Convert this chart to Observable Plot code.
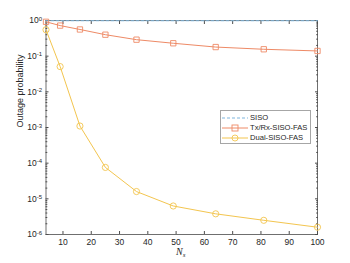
<!DOCTYPE html>
<html><head><meta charset="utf-8">
<script src="https://cdn.jsdelivr.net/npm/d3@7"></script>
<script src="https://cdn.jsdelivr.net/npm/@observablehq/plot@0.6"></script>
<style>
body{margin:0;background:#fff;font-family:"Liberation Sans",Arial,sans-serif;}
#wrap{position:relative;width:350px;height:263px;}
.legend{position:absolute;left:220px;top:110px;width:91px;height:34px;border:1px solid #a6a6a6;background:#fff;font-size:7.6px;color:#262626;box-sizing:border-box;}
.legend .row{position:absolute;left:1px;width:89px;height:10px;display:flex;align-items:center;white-space:nowrap;}
.legend svg{display:block;flex:none;}
.legend span{margin-left:2px;line-height:10px;white-space:nowrap;}
.xlab{position:absolute;left:176px;top:246px;font-family:"Liberation Serif","DejaVu Serif",serif;font-style:italic;font-size:10px;color:#262626;}
.xlab sub{font-size:7px;vertical-align:-2px;}
</style></head>
<body><div id="wrap"></div>
<script>
const Ns = [4, 9, 16, 25, 36, 49, 64, 81, 100];
const siso = [0.985, 0.985, 0.985, 0.985, 0.985, 0.985, 0.985, 0.985, 0.985];
const txrx = [0.92, 0.72, 0.56, 0.40, 0.29, 0.23, 0.18, 0.156, 0.14];
const dual = [0.55, 0.051, 0.0011, 7.6e-5, 1.6e-5, 6.3e-6, 3.8e-6, 2.5e-6, 1.6e-6];
const xTicks = [10, 20, 30, 40, 50, 60, 70, 80, 90, 100];
const yExps = [-6, -5, -4, -3, -2, -1, 0];
const seriesNames = ["SISO", "Tx/Rx-SISO-FAS", "Dual-SISO-FAS"];
const colors = ["#7fb6dd", "#ee8a66", "#f3c54f"];

const yTicks = yExps.map(e => Math.pow(10, e));
const yMinor = [];
for (const e of yExps.slice(0, -1)) for (let k = 2; k <= 9; k++) yMinor.push(k * Math.pow(10, e));

const rows = (vals, name) => Ns.map((n, i) => ({n, v: vals[i], name}));
const dSiso = rows(siso, seriesNames[0]);
const dTx = rows(txrx, seriesNames[1]);
const dDual = rows(dual, seriesNames[2]);

const axisColor = "#4d4d4d";
const chart = Plot.plot({
  width: 350, height: 263,
  marginLeft: 45.5, marginRight: 33, marginTop: 20, marginBottom: 29,
  style: {fontFamily: "Liberation Sans, Arial, sans-serif", fontSize: "8.5px", color: "#262626", background: "#fff"},
  x: {domain: [4, 100]},
  y: {type: "log", domain: [1e-6, 1]},
  marks: [
    Plot.frame({stroke: axisColor, strokeWidth: 0.8}),
    Plot.axisX({ticks: xTicks, tickSize: -3, tickPadding: 7, stroke: axisColor, label: null, tickFormat: d => String(d)}),
    Plot.axisX({ticks: xTicks, anchor: "top", tickSize: -3, stroke: axisColor, label: null, tickFormat: () => ""}),
    Plot.axisY({ticks: yTicks, tickSize: -3, tickPadding: 7, stroke: axisColor, label: null, tickFormat: d => "10^" + Math.round(Math.log10(d))}),
    Plot.axisY({ticks: yTicks, anchor: "right", tickSize: -3, stroke: axisColor, label: null, tickFormat: () => ""}),
    Plot.axisY({ticks: yMinor, tickSize: -1.8, stroke: axisColor, label: null, tickFormat: () => ""}),
    Plot.axisY({ticks: yMinor, anchor: "right", tickSize: -1.8, stroke: axisColor, label: null, tickFormat: () => ""}),
    Plot.line(dSiso, {x: "n", y: "v", stroke: colors[0], strokeWidth: 1.2, strokeDasharray: "3,2"}),
    Plot.line(dTx, {x: "n", y: "v", stroke: colors[1], strokeWidth: 1}),
    Plot.dot(dTx, {x: "n", y: "v", stroke: colors[1], symbol: "square", r: 3, strokeWidth: 0.9}),
    Plot.line(dDual, {x: "n", y: "v", stroke: colors[2], strokeWidth: 1}),
    Plot.dot(dDual, {x: "n", y: "v", stroke: colors[2], symbol: "circle", r: 3.1, strokeWidth: 0.9}),
    Plot.text(["Outage probability"], {frameAnchor: "left", dx: -26, rotate: -90, fontSize: 9, fill: "#262626"})
  ]
});

// superscript exponents
d3.select(chart).selectAll("text").each(function() {
  const t = this.textContent;
  const m = /^10\^(-?\d+)$/.exec(t);
  if (m) {
    const el = d3.select(this);
    el.text("");
    el.append("tspan").text("10");
    el.append("tspan").attr("dy", "-0.45em").attr("font-size", "6px").text(m[1]);
  }
});

const wrap = document.getElementById("wrap");
wrap.appendChild(chart);

const xl = document.createElement("div");
xl.className = "xlab";
xl.innerHTML = "N<sub>s</sub>";
wrap.appendChild(xl);

const leg = document.createElement("div");
leg.className = "legend";
seriesNames.forEach((name, i) => {
  const row = document.createElement("div");
  row.className = "row";
  row.style.top = (1.5 + i * 10) + "px";
  let marker = "";
  if (i === 1) marker = `<rect x="10" y="2" width="6" height="6" fill="none" stroke="${colors[1]}" stroke-width="0.9"/>`;
  if (i === 2) marker = `<circle cx="13" cy="5" r="3" fill="none" stroke="${colors[2]}" stroke-width="0.9"/>`;
  const dash = i === 0 ? `stroke-dasharray="3,2" stroke-width="1.2"` : `stroke-width="1"`;
  row.innerHTML = `<svg width="26" height="10"><line x1="0" x2="26" y1="5" y2="5" stroke="${colors[i]}" ${dash}/>${marker}</svg><span>${name}</span>`;
  leg.appendChild(row);
});
wrap.appendChild(leg);
</script>
</body></html>
